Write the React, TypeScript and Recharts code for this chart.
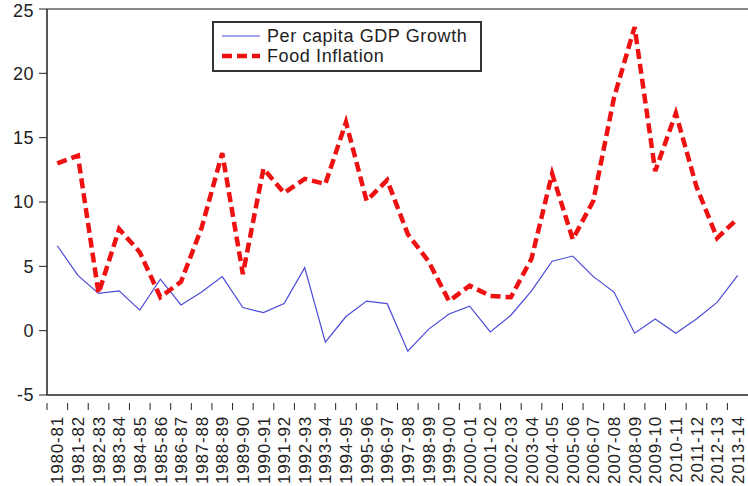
import React from "react";
import { LineChart, Line, XAxis, YAxis, ReferenceLine } from "recharts";

const years = [
  "1980-81", "1981-82", "1982-83", "1983-84", "1984-85", "1985-86", "1986-87", "1987-88",
  "1988-89", "1989-90", "1990-91", "1991-92", "1992-93", "1993-94", "1994-95", "1995-96",
  "1996-97", "1997-98", "1998-99", "1999-00", "2000-01", "2001-02", "2002-03", "2003-04",
  "2004-05", "2005-06", "2006-07", "2007-08", "2008-09", "2009-10", "2010-11", "2011-12",
  "2012-13", "2013-14",
];

const gdpGrowth = [
  6.6, 4.3, 2.9, 3.1, 1.6, 4.0, 2.0, 3.0, 4.2, 1.8, 1.4, 2.1, 4.9, -0.9, 1.1, 2.3,
  2.1, -1.6, 0.1, 1.3, 1.9, -0.1, 1.2, 3.1, 5.4, 5.8, 4.2, 3.0, -0.2, 0.9, -0.2, 0.9,
  2.2, 4.3,
];

const foodInflation = [
  13.0, 13.6, 2.9, 7.9, 6.1, 2.6, 3.8, 8.0, 13.8, 4.4, 12.6, 10.7, 11.8, 11.4, 16.2, 10.1,
  11.7, 7.5, 5.4, 2.3, 3.5, 2.7, 2.6, 5.6, 12.2, 7.1, 10.1, 18.1, 23.6, 12.4, 16.9, 11.2,
  7.2, 8.7,
];

const yTicks = [-5, 0, 5, 10, 15, 20, 25];

const seriesNames = ["Per capita GDP Growth", "Food Inflation"];
const seriesColors = ["#4a4ad8", "#ee1111"];
const seriesWidths = [1.2, 4.5];
const seriesDashes = ["", "10 5"];

const data = years.map((y, i) => ({
  year: y,
  gdp: gdpGrowth[i],
  food: foodInflation[i],
}));

const FONT = "'Liberation Sans', Arial, sans-serif";
const BAND = 20.62;

const XTick = (props: any) => {
  const { x, y, payload } = props;
  return (
    <g transform={`translate(${x},${y})`}>
      <line x1={-BAND / 2} x2={-BAND / 2} y1={0} y2={7} stroke="#222" strokeWidth={1} />
      <text
        transform="rotate(-90)"
        x={-13}
        y={0}
        dy="0.36em"
        textAnchor="end"
        fontSize={17}
        letterSpacing={0.8}
        fontFamily={FONT}
        fill="#222"
      >
        {payload.value}
      </text>
    </g>
  );
};

const LegendBox = () => (
  <div
    style={{
      position: "absolute",
      left: 212,
      top: 21,
      border: "2px solid #333",
      background: "#fff",
      width: 270,
      padding: "3px 0 4px 8px",
      boxSizing: "border-box",
      fontFamily: FONT,
      fontSize: 18,
      letterSpacing: 0.6,
      color: "#222",
      lineHeight: "20px",
    }}
  >
    {seriesNames.map((name, i) => (
      <div key={name} style={{ display: "flex", alignItems: "center" }}>
        <svg width={38} height={12} style={{ marginRight: 7 }}>
          <line
            x1={0}
            x2={38}
            y1={6}
            y2={6}
            stroke={seriesColors[i]}
            strokeWidth={seriesWidths[i]}
            strokeDasharray={seriesDashes[i] || undefined}
          />
        </svg>
        <span>{name}</span>
      </div>
    ))}
  </div>
);

export default function App() {
  return (
    <div
      style={{
        position: "absolute",
        left: 0,
        top: 0,
        width: 748,
        height: 486,
        overflow: "hidden",
        background: "#fff",
      }}
    >
      <LineChart
        width={748}
        height={486}
        data={data}
        margin={{ top: 9, right: 0, bottom: 0, left: 0 }}
      >
        <ReferenceLine y={25} stroke="#888" strokeWidth={2} />
        <XAxis
          dataKey="year"
          interval={0}
          height={91}
          padding={{ left: 10.3, right: 10.3 }}
          tick={<XTick />}
          tickLine={false}
          axisLine={{ stroke: "#222", strokeWidth: 1.5 }}
        />
        <YAxis
          domain={[-5, 25]}
          ticks={yTicks}
          width={47}
          tickSize={8}
          tickMargin={5}
          axisLine={{ stroke: "#222", strokeWidth: 1.5 }}
          tickLine={{ stroke: "#222" }}
          tick={{ fontSize: 18, fontFamily: FONT, fill: "#222", letterSpacing: 0.5 }}
        />
        <Line
          type="linear"
          dataKey="gdp"
          name={seriesNames[0]}
          stroke={seriesColors[0]}
          strokeWidth={seriesWidths[0]}
          dot={false}
          isAnimationActive={false}
        />
        <Line
          type="linear"
          dataKey="food"
          name={seriesNames[1]}
          stroke={seriesColors[1]}
          strokeWidth={seriesWidths[1]}
          strokeDasharray={seriesDashes[1]}
          dot={false}
          isAnimationActive={false}
        />
      </LineChart>
      <LegendBox />
    </div>
  );
}
